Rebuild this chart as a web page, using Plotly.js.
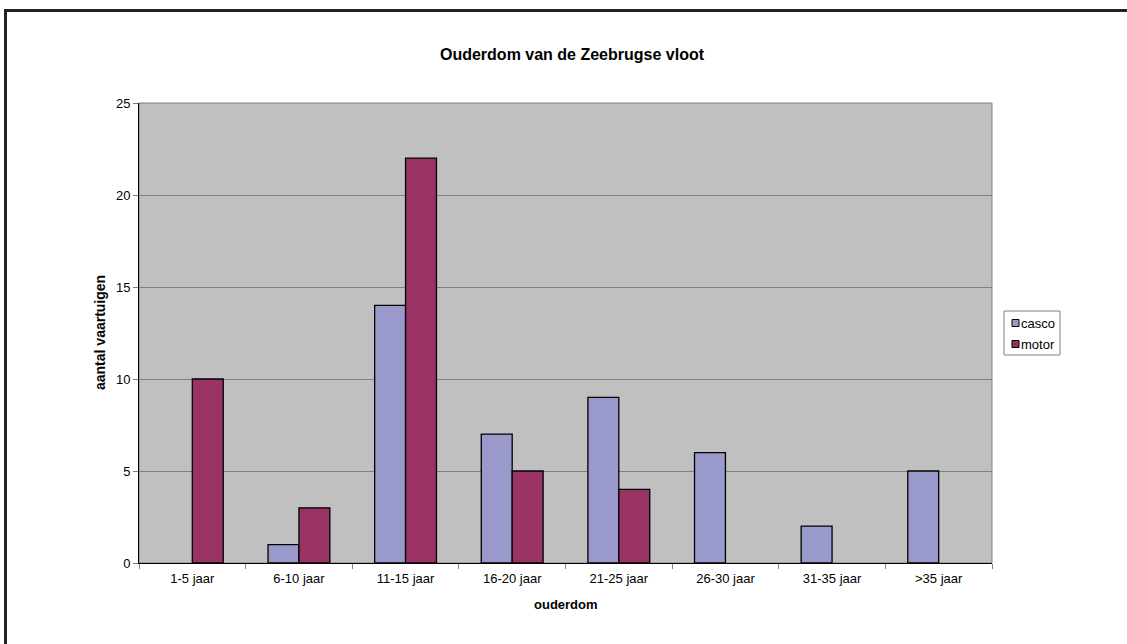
<!DOCTYPE html>
<html>
<head>
<meta charset="utf-8">
<script src="https://cdn.plot.ly/plotly-3.0.1.min.js"></script>
<style>
html,body{margin:0;padding:0;background:#fff;}
#wrap{position:relative;width:1127px;height:644px;overflow:hidden;}
#chart{position:absolute;left:0;top:0;width:1127px;height:644px;}
#frame{position:absolute;left:4px;top:9px;width:1200px;height:800px;border-top:3px solid #222;border-left:3px solid #222;pointer-events:none;}
</style>
</head>
<body>
<div id="wrap"><div id="chart"></div><div id="frame"></div></div>
<script>
const categories = ["1-5 jaar","6-10 jaar","11-15 jaar","16-20 jaar","21-25 jaar","26-30 jaar","31-35 jaar",">35 jaar"];
const casco = [null, 1, 14, 7, 9, 6, 2, 5];
const motor = [10, 3, 22, 5, 4, null, null, null];
const seriesNames = ["casco","motor"];
const seriesColors = ["#9999CC","#993366"];
const chartTitle = "Ouderdom van de Zeebrugse vloot";
const xTitle = "ouderdom";
const yTitle = "aantal vaartuigen";

const font = "Liberation Sans, Arial, sans-serif";
const L = 139, R = 992, T = 103, B = 563;
const PW = R - L, PH = B - T;
const px = x => (x - L) / PW;
const py = y => (B - y) / PH;

const traces = [
  {type:"bar", name:seriesNames[0], x:categories, y:casco, showlegend:false,
   marker:{color:seriesColors[0], line:{color:"#000", width:1.3}}},
  {type:"bar", name:seriesNames[1], x:categories, y:motor, showlegend:false,
   marker:{color:seriesColors[1], line:{color:"#000", width:1.3}}}
];

// custom legend (Excel style)
const legendShapes = [
  {type:"rect", xref:"paper", yref:"paper", x0:px(1004), x1:px(1060), y0:py(311), y1:py(355),
   line:{color:"#808080", width:1}, fillcolor:"#fff"}
];
const legendAnn = [];
seriesNames.forEach((n, i) => {
  const cy = 323 + i * 21;
  legendShapes.push({type:"rect", xref:"paper", yref:"paper",
    x0:px(1012), x1:px(1019), y0:py(cy + 3.5), y1:py(cy - 3.5),
    line:{color:"#000", width:1}, fillcolor:seriesColors[i]});
  legendAnn.push({text:n, xref:"paper", yref:"paper", x:px(1019), y:py(cy),
    xanchor:"left", yanchor:"middle", showarrow:false,
    font:{family:font, size:13, color:"#000"}});
});

const layout = {
  width:1127, height:644,
  margin:{l:L, r:1127-R, t:T, b:644-B},
  paper_bgcolor:"#fff", plot_bgcolor:"#C0C0C0",
  barmode:"group", bargap:0.42, bargroupgap:0,
  font:{family:font, size:13, color:"#000"},
  title:{text:"<b>"+chartTitle+"</b>", font:{family:font, size:16, color:"#000"},
         x:572/1127, xanchor:"center", y:1-54/644, yanchor:"middle", xref:"container", yref:"container"},
  xaxis:{type:"category", showline:true, linecolor:"#000", linewidth:1,
         ticks:"outside", tickson:"boundaries", ticklen:5, tickcolor:"#808080",
         ticklabelstandoff:3,
         tickfont:{family:font, size:13, color:"#000"}, showgrid:false, zeroline:false,
         fixedrange:true},
  yaxis:{range:[0,25], tickvals:[0,5,10,15,20,25], showline:true, linecolor:"#000", linewidth:1,
         ticks:"outside", ticklen:5, tickcolor:"#808080",
         showgrid:true, gridcolor:"#808080", gridwidth:1, zeroline:false,
         tickfont:{family:font, size:13, color:"#000"}, fixedrange:true},
  shapes:[{type:"rect", xref:"paper", yref:"paper", x0:0, x1:1, y0:0, y1:1,
           line:{color:"#808080", width:1}, layer:"below"}].concat(legendShapes),
  annotations:[
    {text:"<b>"+xTitle+"</b>", xref:"paper", yref:"paper", x:px(566), y:py(604),
     yanchor:"middle", showarrow:false, font:{family:font, size:13, color:"#000"}},
    {text:"<b>"+yTitle+"</b>", xref:"paper", yref:"paper", x:px(100), y:py(333),
     xanchor:"center", yanchor:"middle", textangle:-90, showarrow:false,
     font:{family:font, size:14, color:"#000"}}
  ].concat(legendAnn),
  showlegend:false
};
Plotly.newPlot("chart", traces, layout, {displayModeBar:false, staticPlot:true});
</script>
</body>
</html>
